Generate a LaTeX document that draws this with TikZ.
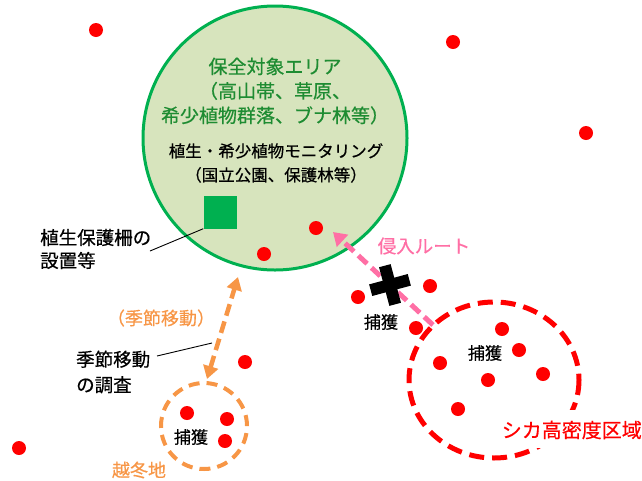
\documentclass[tikz,border=0pt]{standalone}
\usepackage{fontspec}
\setmainfont{Noto Sans CJK JP}[FakeBold=0.5]
\usetikzlibrary{arrows.meta}
\definecolor{zonefill}{HTML}{D7E4BD}
\definecolor{zoneline}{HTML}{00B050}
\definecolor{zonetext}{HTML}{1E8C32}
\definecolor{deerred}{HTML}{FF0000}
\definecolor{migor}{HTML}{F79646}
\definecolor{routepink}{HTML}{FF6FA5}
\tikzset{
  dot/.style={circle,fill=deerred,inner sep=0pt,minimum size=14pt},
  lbl/.style={inner sep=0pt,align=left,text=black},
  leader/.style={draw=black,line width=0.9pt},
}
\begin{document}
\begin{tikzpicture}[x=1pt,y=-1pt]
\useasboundingbox (0,0) rectangle (642,480);
% conservation zone
\node[circle,draw=zoneline,fill=zonefill,line width=3pt,minimum size=264pt,inner sep=0pt] (zone) at (275,138) {};
\node[align=center,text=zonetext,font=\fontsize{19}{24.5}\selectfont,inner sep=0pt] (ztitle) at (275,91)
  {保全対象エリア\\（高山帯、草原、\\希少植物群落、ブナ林等）};
\node[align=center,text=black,font=\fontsize{16.5}{24}\selectfont,inner sep=0pt] (zmon) at (276,163)
  {植生・希少植物モニタリング\\（国立公園、保護林等）};
\node[fill=zoneline,minimum size=33pt,inner sep=0pt] (fence) at (220,212) {};
% high density area
\draw[deerred,line width=5pt,dash pattern=on 15pt off 8pt] (494,380) ellipse [x radius=85, y radius=78];
\node[fill=white,inner sep=0pt,minimum width=152pt,minimum height=38pt] (hdbg) at (566,429) {};
\node[text=deerred,font=\fontsize{20}{24}\selectfont,inner sep=0pt,anchor=east] (hd) at (642,430) {シカ高密度区域};
% wintering area
\node[circle,draw=migor,line width=4pt,dash pattern=on 11pt off 7pt,minimum size=86pt,inner sep=0pt] (winter) at (204,426) {};
\node[text=migor,font=\fontsize{18}{22}\selectfont,inner sep=0pt] (wlbl) at (139,470) {越冬地};
% dots
\foreach \n/\x/\y in {a/96/30,b/453/42,c/586/133,d/19/448,e/316/228,f/264/254,g/245/362,
  h/187/413,i/227/419,j/225/441,k/358/297,l/430/286,m/416/328,n/502/329,o/519/350,
  p/440/363,q/488/380,r/543/374,s/458/409}
  \node[dot] (dot\n) at (\x,\y) {};
% captures
\node[lbl,font=\fontsize{17}{20}\selectfont] (cap1) at (191,437) {捕獲};
\node[lbl,font=\fontsize{17}{20}\selectfont] (cap2) at (381,322) {捕獲};
\node[lbl,font=\fontsize{17}{20}\selectfont] (cap3) at (485,353) {捕獲};
% intrusion route
\coordinate (rs) at (433,325);
\coordinate (re) at (333,232);
\draw[routepink,line width=5pt,dash pattern=on 12pt off 6pt,-{Triangle[width=16pt,length=13pt]}] (rs) -- (re);
\node[text=routepink,font=\fontsize{18.5}{22}\selectfont,inner sep=0pt] (route) at (424,246) {侵入ルート};
% cross
\coordinate (cross) at (390,285);
\begin{scope}[shift={(cross)},rotate=15]
\fill[black] (-20,-6) rectangle (20,6);
\fill[black] (-6,-20) rectangle (6,20);
\end{scope}
% seasonal migration
\coordinate (ms) at (207,379);
\coordinate (me) at (238,277);
\draw[migor,line width=4.5pt,dash pattern=on 12pt off 6pt,{Triangle[width=15pt,length=13pt]}-{Triangle[width=15pt,length=13pt]}] (ms) -- (me);
\node[text=migor,font=\fontsize{18}{22}\selectfont,inner sep=0pt] (mig) at (161,318) {（季節移動）};
% labels with leaders
\node[lbl,font=\fontsize{18.5}{23}\selectfont,anchor=west] (fencelbl) at (40,249) {植生保護柵の\\設置等};
\coordinate (fl1) at (150,251);
\draw[leader] (fl1) -- (fence.south west);
\node[lbl,font=\fontsize{18.5}{25.5}\selectfont,anchor=west] (miglbl) at (76,372) {季節移動\\の調査};
\coordinate (ml1) at (157,356);
\coordinate (ml2) at (212,343);
\draw[leader] (ml1) -- (ml2);
\end{tikzpicture}
\end{document}
